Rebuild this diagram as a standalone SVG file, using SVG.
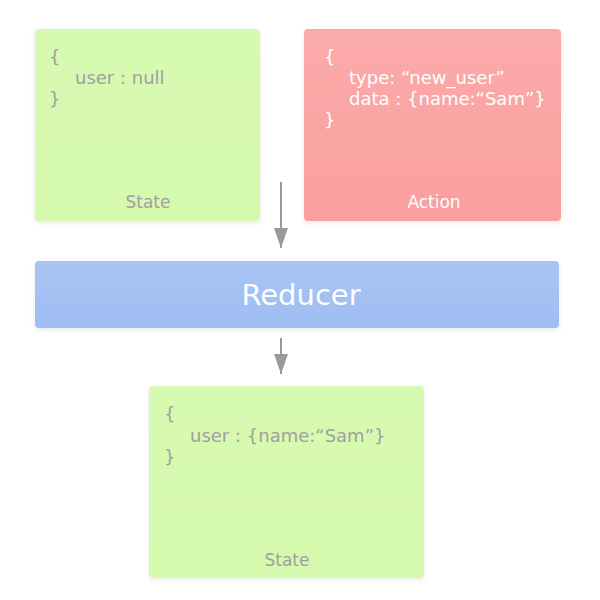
<svg xmlns="http://www.w3.org/2000/svg" width="600" height="600" viewBox="0 0 600 600">
<defs>
<linearGradient id="gGreen" x1="0" y1="0" x2="0" y2="1"><stop offset="0" stop-color="#d7fab1"/><stop offset="1" stop-color="#d5f9ad"/></linearGradient>
<linearGradient id="gRed" x1="0" y1="0" x2="0" y2="1"><stop offset="0" stop-color="#fbaaaa"/><stop offset="1" stop-color="#f9a09f"/></linearGradient>
<linearGradient id="gBlue" x1="0" y1="0" x2="0" y2="1"><stop offset="0" stop-color="#a8c5f4"/><stop offset="1" stop-color="#9ebdf2"/></linearGradient>
<filter id="sh" x="-10%" y="-10%" width="120%" height="125%"><feDropShadow dx="0" dy="2" stdDeviation="2.5" flood-color="#000" flood-opacity="0.08"/></filter>
<marker id="ah" viewBox="0 0 20 14" refX="20" refY="7" markerWidth="20" markerHeight="14" markerUnits="userSpaceOnUse" orient="auto"><path d="M0,0 L20,7 L0,14 Z" fill="#999"/></marker>
</defs>
<style>
text{font-family:"DejaVu Sans",Verdana,sans-serif;font-size:18px}
.g{fill:#a0a0a0}
.w{fill:#ffffff}
.lbl{text-anchor:middle;font-size:17px}
.big{font-size:29px;text-anchor:middle;fill:#fff}
.conn{stroke:#999;stroke-width:2;fill:none}
</style>
<rect width="600" height="600" fill="#fff"/>
<g id="state1">
<rect x="35" y="29" width="225" height="192" rx="4" fill="url(#gGreen)" filter="url(#sh)"/>
<text class="g" x="49" y="63">{</text>
<text class="g" x="75" y="84">user : null</text>
<text class="g" x="49" y="105">}</text>
<text class="g lbl" x="148" y="208">State</text>
</g>
<g id="action">
<rect x="304" y="29" width="257" height="192" rx="4" fill="url(#gRed)" filter="url(#sh)"/>
<text class="w" x="324" y="63">{</text>
<text class="w" x="349" y="84">type: “new_user”</text>
<text class="w" x="349" y="105">data : {name:“Sam”}</text>
<text class="w" x="324" y="126">}</text>
<text class="w lbl" x="434" y="208">Action</text>
</g>
<g id="reducer">
<rect x="35" y="261" width="524" height="67" rx="4" fill="url(#gBlue)" filter="url(#sh)"/>
<text class="big" x="301" y="305">Reducer</text>
</g>
<g id="state2">
<rect x="149" y="386" width="275" height="192" rx="4" fill="url(#gGreen)" filter="url(#sh)"/>
<text class="g" x="164" y="420">{</text>
<text class="g" x="190" y="442">user : {name:“Sam”}</text>
<text class="g" x="164" y="463">}</text>
<text class="g lbl" x="287" y="566">State</text>
</g>
<g id="connectors">
<line class="conn" x1="281" y1="182" x2="281" y2="248" marker-end="url(#ah)"/>
<line class="conn" x1="281" y1="338" x2="281" y2="374" marker-end="url(#ah)"/>
</g>
</svg>
